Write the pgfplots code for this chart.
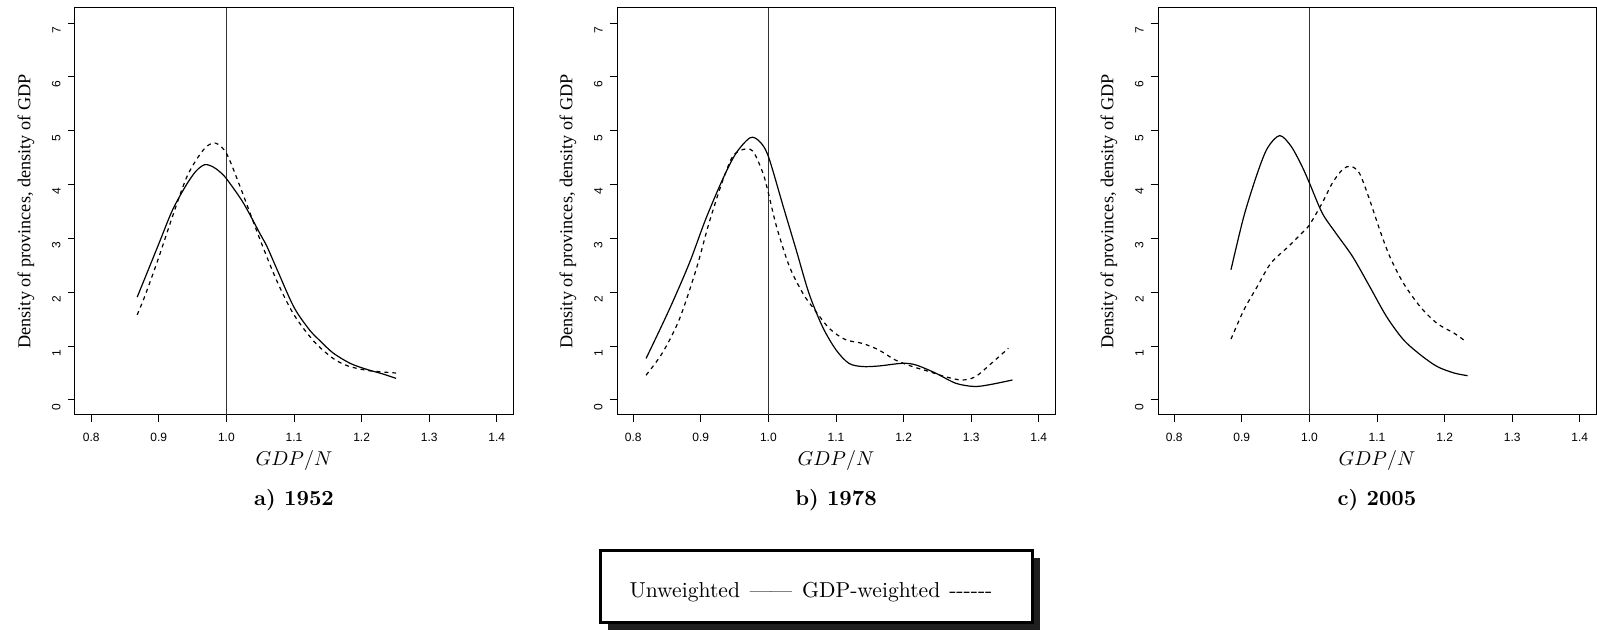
\documentclass[border=0pt]{standalone}
\usepackage{pgfplots}
\pgfplotsset{compat=1.18}
\usepackage{fontspec}
\newfontfamily\rsans{Liberation Sans}
\newfontfamily\rserif{Liberation Serif}

\pgfplotsset{
  kd/.style={
    scale only axis, width=219pt, height=203.5pt,
    anchor=south west,
    xmin=0.776, xmax=1.424, ymin=-0.28, ymax=7.28,
    xtick={0.8,0.9,1.0,1.1,1.2,1.3,1.4},
    xticklabels={0.8,0.9,1.0,1.1,1.2,1.3,1.4},
    ytick={0,1,2,3,4,5,6,7},
    yticklabels={0,1,2,3,4,5,6,7},
    tick align=outside, xtick pos=bottom, ytick pos=left,
    major tick length=3.7pt,
    tick style={black, line width=0.5pt},
    axis line style={line width=0.5pt},
    ticklabel style={font=\rsans\fontsize{6}{7}\selectfont},
    xticklabel style={yshift=-2pt},
    yticklabel style={rotate=90, anchor=south, xshift=-3.5pt},
  },
  unw/.style={black, line width=0.6pt, smooth, tension=0.5},
  gdpw/.style={black, line width=0.6pt, smooth, tension=0.5, dash pattern=on 2pt off 2pt},
  refline/.style={black!80, line width=0.6pt},
}
\tikzset{
  densitylab/.style={rotate=90, font=\rserif\fontsize{9.1}{10}\selectfont},
  panelcap/.style={font=\fontsize{10.8}{12}\selectfont\bfseries},
}

\begin{document}
\begin{tikzpicture}

% a) 1952
\begin{axis}[kd, name=pa, at={(37.5pt,108.5pt)}]
  \addplot[refline] coordinates {(1,-0.28) (1,7.28)};
  \addplot[unw] coordinates {
    (0.868,1.91) (0.88,2.28) (0.90,2.90) (0.92,3.52) (0.94,3.98) (0.955,4.25)
    (0.968,4.37) (0.98,4.33) (0.99,4.24) (1.00,4.11) (1.025,3.66) (1.05,3.08)
    (1.06,2.85) (1.075,2.42) (1.10,1.72) (1.123,1.30) (1.14,1.08) (1.158,0.87)
    (1.183,0.68) (1.207,0.57) (1.232,0.48) (1.251,0.40)};
  \addplot[gdpw] coordinates {
    (0.868,1.58) (0.88,1.95) (0.90,2.65) (0.92,3.40) (0.94,4.10) (0.955,4.45)
    (0.97,4.70) (0.984,4.77) (1.00,4.58) (1.02,3.97) (1.05,2.97) (1.075,2.20)
    (1.10,1.58) (1.13,1.08) (1.158,0.77) (1.18,0.63) (1.207,0.55) (1.23,0.52)
    (1.251,0.50)};
\end{axis}

% b) 1978
\begin{axis}[kd, name=pb, at={(308.5pt,108.5pt)}]
  \addplot[refline] coordinates {(1,-0.28) (1,7.28)};
  \addplot[unw] coordinates {
    (0.819,0.77) (0.853,1.67) (0.883,2.54) (0.907,3.35) (0.932,4.09) (0.952,4.58)
    (0.973,4.87) (0.987,4.80) (1.00,4.52) (1.022,3.59) (1.041,2.79) (1.060,1.98)
    (1.080,1.36) (1.100,0.93) (1.119,0.68) (1.139,0.62) (1.163,0.63) (1.198,0.68)
    (1.218,0.65) (1.247,0.50) (1.277,0.31) (1.304,0.25) (1.326,0.28) (1.361,0.37)};
  \addplot[gdpw] coordinates {
    (0.819,0.46) (0.843,0.87) (0.868,1.49) (0.893,2.42) (0.912,3.28) (0.932,4.06)
    (0.947,4.52) (0.962,4.65) (0.977,4.62) (0.992,4.21) (1.00,3.84) (1.012,3.22)
    (1.031,2.48) (1.051,1.98) (1.065,1.73) (1.090,1.33) (1.114,1.12) (1.139,1.05)
    (1.163,0.93) (1.188,0.74) (1.213,0.62) (1.237,0.53) (1.262,0.43) (1.286,0.37)
    (1.306,0.43) (1.330,0.68) (1.355,0.96)};
\end{axis}

% c) 2005
\begin{axis}[kd, name=pc, at={(579pt,108.5pt)}]
  \addplot[refline] coordinates {(1,-0.28) (1,7.28)};
  \addplot[unw] coordinates {
    (0.884,2.42) (0.903,3.41) (0.923,4.21) (0.938,4.68) (0.956,4.91) (0.973,4.71)
    (0.989,4.34) (1.00,4.03) (1.019,3.47) (1.039,3.10) (1.064,2.66) (1.089,2.11)
    (1.114,1.55) (1.139,1.12) (1.164,0.84) (1.189,0.62) (1.214,0.50) (1.234,0.45)};
  \addplot[gdpw] coordinates {
    (0.884,1.13) (0.903,1.67) (0.923,2.11) (0.943,2.54) (0.969,2.85) (0.989,3.10)
    (1.00,3.25) (1.019,3.66) (1.034,4.03) (1.049,4.28) (1.061,4.34) (1.074,4.21)
    (1.089,3.72) (1.104,3.16) (1.119,2.66) (1.139,2.17) (1.164,1.73) (1.189,1.42)
    (1.214,1.24) (1.232,1.08)};
\end{axis}

% y labels
\node[densitylab] at ([xshift=-24.5pt]pa.west) {Density of provinces, density of GDP};
\node[densitylab] at ([xshift=-24.5pt]pb.west) {Density of provinces, density of GDP};
\node[densitylab] at ([xshift=-24.5pt]pc.west) {Density of provinces, density of GDP};
% x labels
\node at ([yshift=-23pt]pa.south) {$GDP/N$};
\node at ([yshift=-23pt]pb.south) {$GDP/N$};
\node at ([yshift=-23pt]pc.south) {$GDP/N$};
% panel captions
\node[panelcap] at ([yshift=-42.5pt]pa.south) {a)~1952};
\node[panelcap] at ([yshift=-42.5pt]pb.south) {b)~1978};
\node[panelcap] at ([yshift=-42.5pt]pc.south) {c)~2005};

% legend box with drop shadow
\fill[black!88] (304pt,1pt) rectangle (520pt,37pt);
\draw[line width=1.5pt, fill=white] (300pt,4.5pt) rectangle (516pt,40.5pt);
\node[font=\fontsize{10.8}{12}\selectfont] at (405.5pt,20pt)
  {Unweighted\hspace{5pt}---\kern-0.05em---\hspace{5pt}GDP-weighted\hspace{4.5pt}-{}-{}-{}-{}-{}-};

\pgfresetboundingbox
\path (0,0) rectangle (798.5pt,316pt);
\end{tikzpicture}
\end{document}
